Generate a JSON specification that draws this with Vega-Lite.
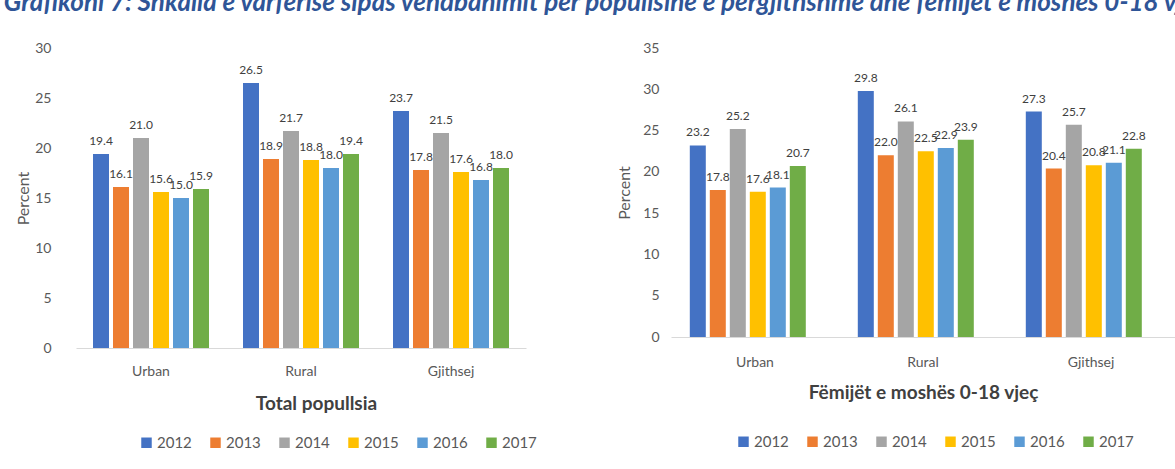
{
  "$schema": "https://vega.github.io/schema/vega-lite/v6.json",
  "padding": {"left": 3, "top": -10, "right": 0, "bottom": 0},
  "autosize": {"type": "pad"},
  "background": "white",
  "title": {
    "text": "Grafikoni 7: Shkalla e varfërisë sipas vendbanimit për popullsinë e përgjithshme dhe fëmijët e moshës 0-18 vjeç",
    "anchor": "start",
    "dx": -12,
    "font": "Lato",
    "fontSize": 26,
    "fontStyle": "italic",
    "fontWeight": "bold",
    "color": "#2F5597",
    "offset": 25
  },
  "datasets": {
    "total": [
      {"zona": "Urban", "viti": "2012", "vlera": 19.4},
      {"zona": "Urban", "viti": "2013", "vlera": 16.1},
      {"zona": "Urban", "viti": "2014", "vlera": 21.0},
      {"zona": "Urban", "viti": "2015", "vlera": 15.6},
      {"zona": "Urban", "viti": "2016", "vlera": 15.0},
      {"zona": "Urban", "viti": "2017", "vlera": 15.9},
      {"zona": "Rural", "viti": "2012", "vlera": 26.5},
      {"zona": "Rural", "viti": "2013", "vlera": 18.9},
      {"zona": "Rural", "viti": "2014", "vlera": 21.7},
      {"zona": "Rural", "viti": "2015", "vlera": 18.8},
      {"zona": "Rural", "viti": "2016", "vlera": 18.0},
      {"zona": "Rural", "viti": "2017", "vlera": 19.4},
      {"zona": "Gjithsej", "viti": "2012", "vlera": 23.7},
      {"zona": "Gjithsej", "viti": "2013", "vlera": 17.8},
      {"zona": "Gjithsej", "viti": "2014", "vlera": 21.5},
      {"zona": "Gjithsej", "viti": "2015", "vlera": 17.6},
      {"zona": "Gjithsej", "viti": "2016", "vlera": 16.8},
      {"zona": "Gjithsej", "viti": "2017", "vlera": 18.0}
    ],
    "femijet": [
      {"zona": "Urban", "viti": "2012", "vlera": 23.2},
      {"zona": "Urban", "viti": "2013", "vlera": 17.8},
      {"zona": "Urban", "viti": "2014", "vlera": 25.2},
      {"zona": "Urban", "viti": "2015", "vlera": 17.6},
      {"zona": "Urban", "viti": "2016", "vlera": 18.1},
      {"zona": "Urban", "viti": "2017", "vlera": 20.7},
      {"zona": "Rural", "viti": "2012", "vlera": 29.8},
      {"zona": "Rural", "viti": "2013", "vlera": 22.0},
      {"zona": "Rural", "viti": "2014", "vlera": 26.1},
      {"zona": "Rural", "viti": "2015", "vlera": 22.5},
      {"zona": "Rural", "viti": "2016", "vlera": 22.9},
      {"zona": "Rural", "viti": "2017", "vlera": 23.9},
      {"zona": "Gjithsej", "viti": "2012", "vlera": 27.3},
      {"zona": "Gjithsej", "viti": "2013", "vlera": 20.4},
      {"zona": "Gjithsej", "viti": "2014", "vlera": 25.7},
      {"zona": "Gjithsej", "viti": "2015", "vlera": 20.8},
      {"zona": "Gjithsej", "viti": "2016", "vlera": 21.1},
      {"zona": "Gjithsej", "viti": "2017", "vlera": 22.8}
    ]
  },
  "hconcat": [
    {
      "data": {"name": "total"},
      "width": 450,
      "height": 300,
      "encoding": {
        "x": {"field": "zona", "type": "nominal", "sort": ["Urban", "Rural", "Gjithsej"], "title": "Total popullsia", "scale": {"paddingInner": 0.2, "paddingOuter": 0.1}, "axis": {"titleX": 240, "labelPadding": 16, "titlePadding": 16}},
        "xOffset": {"field": "viti", "type": "nominal", "scale": {"paddingInner": 0.2, "paddingOuter": 0.1}},
        "y": {"field": "vlera", "type": "quantitative", "title": "Percent", "scale": {"domain": [0, 30], "nice": false}, "axis": {"values": [0, 5, 10, 15, 20, 25, 30], "labelPadding": 25, "titlePadding": 3}}
      },
      "layer": [
        {
          "mark": {"type": "bar"},
          "encoding": {
            "color": {"field": "viti", "type": "nominal", "title": null, "scale": {"domain": ["2012", "2013", "2014", "2015", "2016", "2017"], "range": ["#4472C4", "#ED7D31", "#A5A5A5", "#FFC000", "#5B9BD5", "#70AD47"]}, "legend": {"orient": "none", "legendX": 63, "legendY": 387}}
          }
        },
        {
          "mark": {"type": "text", "baseline": "alphabetic", "dy": -9, "font": "Lato", "fontSize": 12, "color": "#404040"},
          "encoding": {
            "text": {"field": "vlera", "type": "quantitative", "format": ".1f"}
          }
        }
      ]
    },
    {
      "data": {"name": "femijet"},
      "width": 504,
      "height": 289,
      "encoding": {
        "x": {"field": "zona", "type": "nominal", "sort": ["Urban", "Rural", "Gjithsej"], "title": "Fëmijët e moshës 0-18 vjeç", "scale": {"paddingInner": 0.2, "paddingOuter": 0.1}, "axis": {"labelPadding": 18, "titlePadding": 14}},
        "xOffset": {"field": "viti", "type": "nominal", "scale": {"paddingInner": 0.2, "paddingOuter": 0.1}},
        "y": {"field": "vlera", "type": "quantitative", "title": "Percent", "scale": {"domain": [0, 35], "nice": false}, "axis": {"values": [0, 5, 10, 15, 20, 25, 30, 35], "labelPadding": 12, "titlePadding": 10}}
      },
      "layer": [
        {
          "mark": {"type": "bar"},
          "encoding": {
            "color": {"field": "viti", "type": "nominal", "title": null, "scale": {"domain": ["2012", "2013", "2014", "2015", "2016", "2017"], "range": ["#4472C4", "#ED7D31", "#A5A5A5", "#FFC000", "#5B9BD5", "#70AD47"]}, "legend": {"orient": "none", "legendX": 65, "legendY": 386}}
          }
        },
        {
          "mark": {"type": "text", "baseline": "alphabetic", "dy": -9, "font": "Lato", "fontSize": 12, "color": "#404040"},
          "encoding": {
            "text": {"field": "vlera", "type": "quantitative", "format": ".1f"}
          }
        }
      ]
    }
  ],
  "spacing": 79,
  "resolve": {"scale": {"color": "independent"}, "legend": {"color": "independent"}},
  "config": {
    "font": "Lato",
    "view": {"stroke": null},
    "axis": {
      "labelFont": "Lato",
      "labelFontSize": 14,
      "labelColor": "#595959",
      "titleFont": "Lato",
      "titleColor": "#595959",
      "titleFontWeight": "normal",
      "titleFontSize": 16,
      "grid": false,
      "ticks": false,
      "domain": false
    },
    "axisX": {
      "domain": true,
      "domainColor": "#D9D9D9",
      "labelAngle": 0,
      "titleFontWeight": "bold",
      "titleFontSize": 19,
      "titleColor": "#404040"
    },
    "legend": {
      "direction": "horizontal",
      "symbolType": "square",
      "symbolSize": 110,
      "symbolStrokeWidth": 0,
      "labelFont": "Lato",
      "labelFontSize": 15,
      "labelColor": "#595959",
      "columnPadding": 16,
      "labelOffset": 3
    }
  }
}
